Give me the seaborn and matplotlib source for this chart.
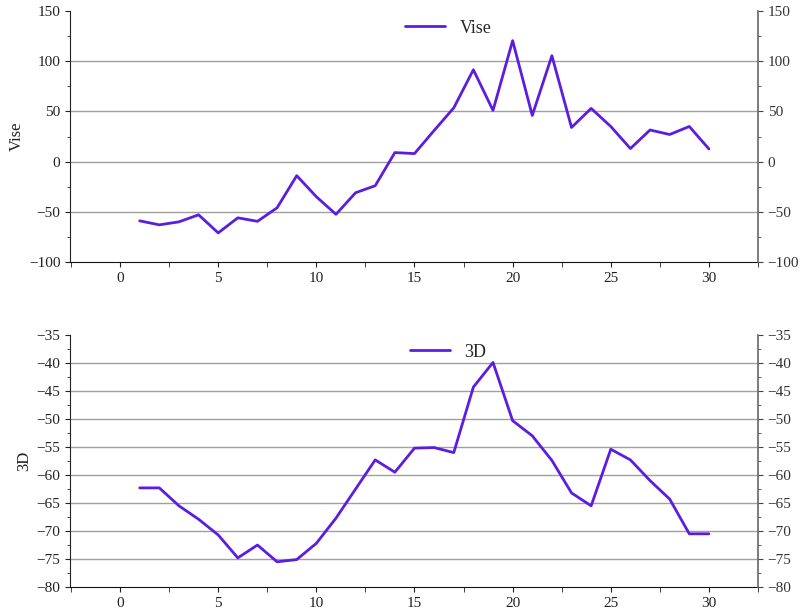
#!/usr/bin/env python3
# two stacked line panels, mirrored y ticks on the right

import matplotlib
matplotlib.use('Agg')
import matplotlib.pyplot as plt
from matplotlib.ticker import MultipleLocator
import pandas as pd
import seaborn as sns

# Data =========================================================================

days = list(range(1, 31))
vise = [-59, -63, -60, -53, -71, -56, -59.5, -46, -14, -35,
        -52.5, -31, -24, 9, 8, 31, 53.5, 91.5, 51, 120.5,
        46, 105.5, 34, 53, 35, 13, 31.5, 27, 35, 12.6]
three_d = [-62.3, -62.3, -65.5, -67.9, -70.7, -74.8, -72.5, -75.5, -75.1, -72.2,
           -67.7, -62.5, -57.3, -59.5, -55.2, -55.1, -56.0, -44.3, -39.9, -50.3,
           -53.0, -57.4, -63.2, -65.5, -55.4, -57.3, -61.0, -64.3, -70.5, -70.5]

LINE = '#5b1ee0'
GRID = '#a0a0a0'


def panel(ax, df, col, ylim, major, minor):
    sns.lineplot(data=df, x='day', y=col, ax=ax, color=LINE, lw=2, label=col)
    ax.set_xlim(-2.55, 32.5)
    ax.set_ylim(*ylim)
    ax.xaxis.set_major_locator(MultipleLocator(5))
    ax.xaxis.set_minor_locator(MultipleLocator(2.5))
    ax.yaxis.set_major_locator(MultipleLocator(major))
    ax.yaxis.set_minor_locator(MultipleLocator(minor))
    # horizontal rules only inside the panel, not along its top edge
    for v in ax.get_yticks():
        if ylim[0] < v < ylim[1]:
            ax.axhline(v, color=GRID, lw=1, zorder=0)
    ax.set_xlabel('')
    ax.set_ylabel(col, fontsize=12, color='#222', labelpad=3)
    for s in ('top', 'right'):
        ax.spines[s].set_visible(False)
    ax.spines['left'].set_color('#222')
    ax.spines['bottom'].set_color('#111')
    ax.tick_params(which='both', direction='out', colors='#222', labelsize=11)
    ax.tick_params(axis='x', which='minor', length=3.5)
    ax.tick_params(axis='y', which='minor', length=2)
    ax.legend(loc='upper center', bbox_to_anchor=(0.55, 1.03), frameon=False,
              fontsize=13, handlelength=2.2)

    rx = ax.twinx()
    rx.set_ylim(*ylim)
    rx.yaxis.set_major_locator(MultipleLocator(major))
    rx.yaxis.set_minor_locator(MultipleLocator(minor))
    for s in ('top', 'left', 'bottom'):
        rx.spines[s].set_visible(False)
    rx.spines['right'].set_color('#666')
    rx.spines['right'].set_linewidth(1.2)
    rx.tick_params(which='both', direction='out', colors='#444', labelsize=11,
                   labelcolor='#333')
    rx.tick_params(axis='y', which='minor', length=2)


def main():
    sns.set_style('ticks')
    plt.rcParams['font.family'] = ['Liberation Serif', 'DejaVu Serif']
    plt.rcParams['axes.unicode_minus'] = True

    df = pd.DataFrame({'day': days, 'Vise': vise, '3D': three_d})

    fig = plt.figure(figsize=(8, 6.13), dpi=100)
    ax1 = fig.add_axes([0.0875, 0.5726, 0.86, 0.4094])
    ax2 = fig.add_axes([0.0875, 0.0424, 0.86, 0.4111])

    panel(ax1, df, 'Vise', (-100, 150), 50, 25)
    panel(ax2, df, '3D', (-80, -35), 5, 2.5)

    fig.savefig('out.png', dpi=100)


if __name__ == '__main__':
    main()
